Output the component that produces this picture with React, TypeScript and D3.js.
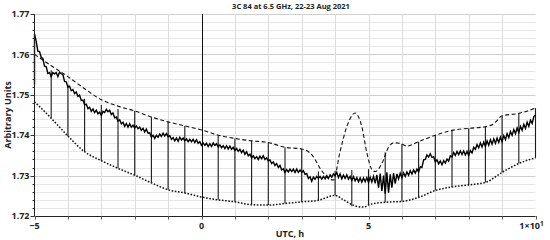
import React from "react";
import * as d3 from "d3";

const TITLE = "3C 84 at 6.5 GHz, 22-23 Aug 2021";
const X_LABEL = "UTC, h";
const Y_LABEL = "Arbitrary Units";
const yTickLabels = ["1.72", "1.73", "1.74", "1.75", "1.76", "1.77"];
const yTickValues = [1.72, 1.73, 1.74, 1.75, 1.76, 1.77];
const xTickValues = [-5, 0, 5, 10];

// main measured series, sampled every 0.05 h from -5 h (one row per hour)
const T_START = -5;
const T_STEP = 0.05;
const fluxValues = [
  1.7650, 1.7633, 1.7608, 1.7607, 1.7593, 1.7590, 1.7571, 1.7570, 1.7553, 1.7555, 1.7545, 1.7555, 1.7552, 1.7555, 1.7545, 1.7556, 1.7552, 1.7550, 1.7533, 1.7532,
  1.7519, 1.7521, 1.7510, 1.7513, 1.7503, 1.7507, 1.7496, 1.7499, 1.7486, 1.7487, 1.7475, 1.7477, 1.7466, 1.7469, 1.7459, 1.7465, 1.7456, 1.7462, 1.7453, 1.7457,
  1.7449, 1.7459, 1.7456, 1.7464, 1.7458, 1.7462, 1.7451, 1.7455, 1.7443, 1.7445, 1.7435, 1.7438, 1.7428, 1.7432, 1.7422, 1.7429, 1.7420, 1.7428, 1.7420, 1.7425,
  1.7418, 1.7423, 1.7416, 1.7420, 1.7412, 1.7417, 1.7408, 1.7415, 1.7405, 1.7406, 1.7395, 1.7400, 1.7392, 1.7400, 1.7395, 1.7403, 1.7397, 1.7405, 1.7398, 1.7404,
  1.7396, 1.7399, 1.7390, 1.7394, 1.7386, 1.7393, 1.7385, 1.7395, 1.7388, 1.7393, 1.7386, 1.7391, 1.7384, 1.7390, 1.7384, 1.7390, 1.7382, 1.7389, 1.7380, 1.7384,
  1.7375, 1.7381, 1.7375, 1.7380, 1.7372, 1.7379, 1.7372, 1.7381, 1.7375, 1.7379, 1.7371, 1.7376, 1.7369, 1.7374, 1.7367, 1.7374, 1.7366, 1.7373, 1.7365, 1.7370,
  1.7362, 1.7367, 1.7360, 1.7365, 1.7357, 1.7363, 1.7353, 1.7359, 1.7349, 1.7353, 1.7344, 1.7349, 1.7342, 1.7347, 1.7340, 1.7348, 1.7342, 1.7349, 1.7340, 1.7344,
  1.7336, 1.7339, 1.7330, 1.7334, 1.7325, 1.7330, 1.7320, 1.7325, 1.7314, 1.7317, 1.7308, 1.7315, 1.7309, 1.7316, 1.7310, 1.7316, 1.7308, 1.7316, 1.7308, 1.7314,
  1.7308, 1.7312, 1.7303, 1.7305, 1.7293, 1.7297, 1.7286, 1.7296, 1.7291, 1.7298, 1.7293, 1.7298, 1.7291, 1.7298, 1.7292, 1.7300, 1.7293, 1.7302, 1.7296, 1.7304,
  1.7300, 1.7308, 1.7295, 1.7304, 1.7292, 1.7301, 1.7293, 1.7302, 1.7291, 1.7298, 1.7288, 1.7297, 1.7287, 1.7295, 1.7285, 1.7294, 1.7284, 1.7294, 1.7285, 1.7295,
  1.7283, 1.7296, 1.7284, 1.7298, 1.7281, 1.7302, 1.7270, 1.7305, 1.7262, 1.7300, 1.7255, 1.7308, 1.7258, 1.7303, 1.7270, 1.7306, 1.7280, 1.7304, 1.7292, 1.7306,
  1.7295, 1.7307, 1.7298, 1.7309, 1.7301, 1.7312, 1.7304, 1.7314, 1.7306, 1.7316, 1.7309, 1.7322, 1.7320, 1.7339, 1.7340, 1.7351, 1.7346, 1.7354, 1.7345, 1.7347,
  1.7334, 1.7339, 1.7329, 1.7336, 1.7327, 1.7337, 1.7331, 1.7341, 1.7336, 1.7349, 1.7346, 1.7357, 1.7350, 1.7360, 1.7352, 1.7361, 1.7352, 1.7361, 1.7351, 1.7360,
  1.7350, 1.7362, 1.7356, 1.7370, 1.7365, 1.7377, 1.7369, 1.7381, 1.7371, 1.7383, 1.7372, 1.7386, 1.7375, 1.7389, 1.7378, 1.7391, 1.7380, 1.7393, 1.7382, 1.7395,
  1.7384, 1.7399, 1.7389, 1.7404, 1.7394, 1.7409, 1.7400, 1.7414, 1.7404, 1.7418, 1.7407, 1.7422, 1.7412, 1.7427, 1.7417, 1.7432, 1.7422, 1.7437, 1.7429, 1.7446,
  1.7450,
];
// initial jump at the first sample
const startSpike = [1.7525, 1.7650];

// upper (dashed) envelope
const upperT = [-5, -4.5, -4, -3.5, -3, -2.5, -2, -1.5, -1, -0.5, 0, 0.5, 1, 1.5, 2, 2.5, 3, 3.3, 3.6, 3.8, 3.95, 4.15, 4.35, 4.6, 4.8, 4.95, 5.1, 5.2, 5.4, 5.6, 5.75, 5.95, 6.15, 6.5, 7, 7.5, 8, 8.5, 8.75, 9, 9.5, 10];
const upperV = [1.7600, 1.7572, 1.7545, 1.7515, 1.7488, 1.7472, 1.7460, 1.7445, 1.7433, 1.7423, 1.7413, 1.7400, 1.7392, 1.7386, 1.7382, 1.7370, 1.7366, 1.7352, 1.7312, 1.7293, 1.7289, 1.7360, 1.7421, 1.7455, 1.7421, 1.7357, 1.7315, 1.7310, 1.7330, 1.7370, 1.7381, 1.7380, 1.7373, 1.7384, 1.7400, 1.7412, 1.7417, 1.7421, 1.7428, 1.7448, 1.7454, 1.7467];

// lower (dotted) envelope
const lowerT = [-5, -4.5, -4, -3.5, -3, -2.5, -2, -1.5, -1, -0.5, 0, 0.5, 1, 1.5, 2, 2.5, 3, 3.5, 4, 4.25, 4.6, 4.85, 5.05, 5.5, 6, 6.5, 7, 7.5, 8, 8.5, 9, 9.5, 10];
const lowerV = [1.7483, 1.7442, 1.7398, 1.7359, 1.7337, 1.7318, 1.7301, 1.7282, 1.7265, 1.7257, 1.7247, 1.7240, 1.7235, 1.7228, 1.7227, 1.7231, 1.7235, 1.7239, 1.7251, 1.7240, 1.7225, 1.7222, 1.7229, 1.7234, 1.7236, 1.7246, 1.7263, 1.7272, 1.7277, 1.7283, 1.7308, 1.7330, 1.7344];

// vertical bars every 0.5 h
const barT = [-4.5, -4, -3.5, -3, -2.5, -2, -1.5, -1, -0.5, 0.5, 1, 1.5, 2, 2.5, 3, 3.5, 4, 4.5, 5, 5.5, 6, 6.5, 7, 7.5, 8, 8.5, 9, 9.5, 10];
const barLow = [1.7442, 1.7398, 1.7359, 1.7337, 1.7318, 1.7301, 1.7282, 1.7265, 1.7257, 1.7240, 1.7235, 1.7228, 1.7227, 1.7231, 1.7235, 1.7239, 1.7251, 1.7224, 1.7227, 1.7234, 1.7236, 1.7246, 1.7263, 1.7272, 1.7277, 1.7283, 1.7308, 1.7330, 1.7344];
const barHigh = [1.7561, 1.7525, 1.7490, 1.7475, 1.7465, 1.7460, 1.7445, 1.7433, 1.7423, 1.7400, 1.7392, 1.7386, 1.7382, 1.7370, 1.7366, 1.7310, 1.7312, 1.7314, 1.7316, 1.7358, 1.7378, 1.7384, 1.7400, 1.7412, 1.7417, 1.7421, 1.7448, 1.7454, 1.7467];

const W = 550;
const H = 240;
const FONT = "'Open Sans', 'Noto Sans', sans-serif";

export default function App() {
  const x = d3.scaleLinear().domain([-5, 10]).range([34.5, 535.5]);
  const y = d3.scaleLinear().domain([1.72, 1.77]).range([216, 14]);

  const line = d3.line<[number, number]>().x((d) => x(d[0])).y((d) => y(d[1]));
  const smoothLine = d3
    .line<[number, number]>()
    .x((d) => x(d[0]))
    .y((d) => y(d[1]))
    .curve(d3.curveMonotoneX);

  const fluxPts: [number, number][] = fluxValues.map((v, i) => [T_START + i * T_STEP, v]);
  const upperPts: [number, number][] = upperT.map((t, i) => [t, upperV[i]]);
  const lowerPts: [number, number][] = lowerT.map((t, i) => [t, lowerV[i]]);

  const minorY = d3.range(0, 26).map((i) => 1.72 + i * 0.002);
  const gridX = d3.range(-5, 10).filter((v) => v !== -5 && v !== 0);
  const tickX = d3.range(-5, 11);

  return (
    <svg
      width={W}
      height={H}
      style={{ position: "absolute", left: 0, top: 0, background: "#fff" }}
      fontFamily={FONT}
    >
      {minorY.map((v, i) => (
        <line
          key={"mg" + i}
          x1={x(-5)}
          x2={x(10)}
          y1={Math.round(y(v)) + 0.5}
          y2={Math.round(y(v)) + 0.5}
          stroke={i % 5 === 0 ? "#cfcfcf" : "#e6e6e6"}
          strokeWidth={1}
        />
      ))}
      {gridX.map((v) => (
        <line
          key={"gx" + v}
          x1={Math.round(x(v)) + 0.5}
          x2={Math.round(x(v)) + 0.5}
          y1={y(1.77)}
          y2={y(1.72)}
          stroke="#dcdcdc"
          strokeWidth={1}
        />
      ))}
      <line x1={Math.round(x(0)) + 0.5} x2={Math.round(x(0)) + 0.5} y1={y(1.77)} y2={y(1.72)} stroke="#111" strokeWidth={1} />

      {barT.map((t, i) => (
        <line
          key={"b" + i}
          x1={x(t)}
          x2={x(t)}
          y1={y(barLow[i])}
          y2={y(barHigh[i])}
          stroke="#1a1a1a"
          strokeWidth={1.1}
        />
      ))}

      <path d={smoothLine(upperPts) || ""} fill="none" stroke="#111" strokeWidth={1.1} strokeDasharray="4,2.5" />
      <path d={smoothLine(lowerPts) || ""} fill="none" stroke="#111" strokeWidth={1.5} strokeDasharray="1.6,1.6" />

      <line x1={x(T_START)} x2={x(T_START)} y1={y(startSpike[0])} y2={y(startSpike[1])} stroke="#000" strokeWidth={1.4} />
      <path d={line(fluxPts) || ""} fill="none" stroke="#000" strokeWidth={1.4} strokeLinejoin="miter" />

      <line x1={34.5} x2={34.5} y1={y(1.77)} y2={y(1.72)} stroke="#222" strokeWidth={1} />
      <line x1={x(-5)} x2={x(10)} y1={y(1.72) + 0.5} y2={y(1.72) + 0.5} stroke="#222" strokeWidth={1} />
      {minorY.map((v, i) => (
        <line
          key={"yt" + i}
          x1={34.5 - (i % 5 === 0 ? 4 : 2)}
          x2={34.5}
          y1={Math.round(y(v)) + 0.5}
          y2={Math.round(y(v)) + 0.5}
          stroke="#333"
          strokeWidth={1}
        />
      ))}
      {tickX.map((v) => (
        <line key={"xt" + v} x1={Math.round(x(v)) + 0.5} x2={Math.round(x(v)) + 0.5} y1={216} y2={219.5} stroke="#555" strokeWidth={1} />
      ))}
      {yTickValues.map((v, i) => (
        <text key={"yl" + i} x={29.5} y={y(v) + 3.2} textAnchor="end" fontSize={9} fontWeight={700} fill="#222">
          {yTickLabels[i]}
        </text>
      ))}
      {xTickValues.map((v) =>
        v === 10 ? (
          <text key={"xl" + v} x={x(v) - 4} y={228.5} textAnchor="middle" fontSize={9} fontWeight={700} fill="#222">
            1×10<tspan dy={-3} fontSize={6.5}>1</tspan>
          </text>
        ) : (
          <text key={"xl" + v} x={x(v)} y={228.5} textAnchor="middle" fontSize={9} fontWeight={700} fill="#222">
            {v < 0 ? "−" + Math.abs(v) : String(v)}
          </text>
        )
      )}
      <text x={290} y={236.5} textAnchor="middle" fontSize={9} fontWeight={700} fill="#222">
        {X_LABEL}
      </text>
      <text transform={`translate(11,115) rotate(-90)`} textAnchor="middle" fontSize={9} fontWeight={700} fill="#222">
        {Y_LABEL}
      </text>
      <text x={291} y={8.5} textAnchor="middle" fontSize={7.5} fontWeight={700} fill="#222">
        {TITLE}
      </text>
    </svg>
  );
}
